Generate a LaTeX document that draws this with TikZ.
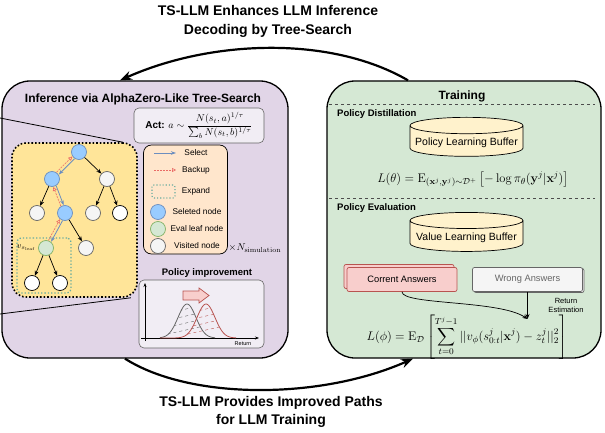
\RequirePackage{fix-cm}
\documentclass[tikz,border=0pt]{standalone}
\usepackage{amsmath}
\usepackage{amssymb}
\usepackage[no-math]{fontspec}
\setmainfont{Liberation Sans}
\usepackage{xcolor}
\usepackage{tikz}
\usetikzlibrary{shapes.geometric, arrows.meta, positioning, calc, shadows}
\definecolor{infbg}{HTML}{E1D5E7}
\definecolor{trainbg}{HTML}{D5E8D4}
\definecolor{treebg}{HTML}{FFE599}
\definecolor{legendbg}{HTML}{FFE6CC}
\definecolor{softbg}{HTML}{F1EDF4}
\definecolor{selfill}{HTML}{99CCFF}
\definecolor{selline}{HTML}{6C8EBF}
\definecolor{evalfill}{HTML}{D5E8D4}
\definecolor{evalline}{HTML}{82B366}
\definecolor{visfill}{HTML}{F5F5F5}
\definecolor{visline}{HTML}{666666}
\definecolor{backred}{HTML}{EA6B66}
\definecolor{expandteal}{HTML}{67AB9F}
\definecolor{bufyellow}{HTML}{FFF2CC}
\definecolor{goodfill}{HTML}{F8CECC}
\definecolor{goodline}{HTML}{B85450}
\tikzstyle{panel} = [rectangle, rounded corners=28pt, draw=black, line width=1.3pt, minimum height=277pt]
\tikzstyle{title} = [font=\fontsize{14}{18.5}\selectfont\bfseries, align=center]
\tikzstyle{heading} = [font=\fontsize{12}{14}\selectfont\bfseries]
\tikzstyle{subheading} = [font=\fontsize{9.5}{11}\selectfont\bfseries, inner sep=0pt]
\tikzstyle{softbox} = [rectangle, rounded corners=5pt, draw=visline, fill=softbg, line width=0.6pt]
\tikzstyle{treenode} = [circle, minimum size=15pt, inner sep=0pt, line width=0.7pt]
\tikzstyle{selnode} = [treenode, fill=selfill, draw=selline]
\tikzstyle{evalnode} = [treenode, fill=evalfill, draw=evalline]
\tikzstyle{visnode} = [treenode, fill=visfill, draw=visline]
\tikzstyle{newnode} = [treenode, fill=white, draw=black]
\tikzstyle{edge} = [-{Stealth[length=5pt,width=4pt]}, line width=0.7pt]
\tikzstyle{selectarrow} = [-{Stealth[length=5pt,width=3.5pt]}, draw=selline, line width=0.8pt]
\tikzstyle{backuparrow} = [-{Triangle[open,length=4pt,width=4pt]}, draw=backred, dash pattern=on 2pt off 1pt, line width=0.6pt]
\tikzstyle{legendtext} = [font=\fontsize{8.3}{10}\selectfont]
\tikzstyle{buffer} = [cylinder, shape border rotate=90, aspect=0.15, draw=black, fill=bufyellow, minimum width=113pt, minimum height=39pt, font=\fontsize{10.5}{12}\selectfont, line width=0.7pt]
\tikzstyle{answer} = [rectangle, rounded corners=2pt, minimum width=110pt, minimum height=24pt, font=\fontsize{9.3}{11}\selectfont, line width=0.7pt]
\tikzstyle{formula} = [font=\fontsize{12.5}{15}\selectfont, inner sep=1pt]
\tikzstyle{bigarc} = [-{Stealth[length=12pt,width=9pt]}, line width=2.2pt]
\tikzstyle{divider} = [dashed, draw=black!70, line width=0.6pt]

\begin{document}
\begin{tikzpicture}[x=1pt, y=-1pt]
    \useasboundingbox (0,0) rectangle (605,433);

    % Panels
    \node[panel, fill=infbg, minimum width=286pt] (inf) at (145,219.5) {};
    \node[panel, fill=trainbg, minimum width=274pt] (train) at (464,219.5) {};

    \node[title] (toptitle) at (268,21.5) {TS-LLM Enhances LLM Inference\\Decoding by Tree-Search};
    \node[title] (bottitle) at (271,412) {TS-LLM Provides Improved Paths\\for LLM Training};

    % Arcs
    \draw[bigarc] ([xshift=-56pt]train.north) .. controls (330,35) and (210,40) .. ([xshift=-25pt]inf.north);
    \draw[bigarc] ([xshift=-20pt]inf.south) .. controls (190,400) and (320,400) .. ([xshift=-51pt]train.south);

    % Inference
    \node[heading] (inftitle) at (143,99) {Inference via AlphaZero-Like Tree-Search};
    \node[softbox, minimum width=130pt, minimum height=35pt, inner sep=1pt, font=\fontsize{10}{12}\selectfont] (act) at (199,125.5) {\textbf{Act:} $\displaystyle a\sim\frac{N(s_t,a)^{1/\tau}}{\sum_b N(s_t,b)^{1/\tau}}$};

    \coordinate (zoomtop) at (0,118);
    \coordinate (zoombot) at (0,314);
    \node[rectangle, rounded corners=14pt, draw=black, fill=treebg, line width=1.6pt, dotted, minimum width=125pt, minimum height=154pt] (treebox) at (74.5,220) {};
    \draw[line width=0.8pt] (zoomtop) -- ([xshift=-15pt]treebox.north east);
    \draw[line width=0.8pt] (zoombot) -- ([xshift=-7pt]treebox.south east);
    \node[rectangle, rounded corners=4pt, draw=expandteal, line width=1.3pt, dotted, minimum width=54pt, minimum height=55pt] (expand) at (44,265.5) {};

    % Tree
    \node[selnode] (n0) at (79,152) {};
    \node[selnode] (n1) at (52,179) {};
    \node[visnode] (n2) at (107,179) {};
    \node[visnode] (n3) at (37,213) {};
    \node[selnode] (n4) at (65,213) {};
    \node[visnode] (n5) at (93,213) {};
    \node[newnode] (n6) at (120,213) {};
    \node[evalnode] (n7) at (46,248) {};
    \node[visnode] (n8) at (86,248) {};
    \node[newnode] (n9) at (32,283) {};
    \node[newnode] (n10) at (60,283) {};
    \node[font=\fontsize{8.5}{10}\selectfont, left=-1pt of n7] (vleaf) {$v_{s_{\mathrm{leaf}}}$};

    \draw[edge] (n0) -- (n2);
    \draw[edge] (n1) -- (n3);
    \draw[edge] (n2) -- (n5);
    \draw[edge] (n2) -- (n6);
    \draw[edge] (n4) -- (n8);
    \draw[edge] (n7) -- (n9);
    \draw[edge] (n7) -- (n10);
    \draw[selectarrow, transform canvas={xshift=1.1pt, yshift=-1.1pt}] (n0) -- (n1);
    \draw[backuparrow, transform canvas={xshift=-1.1pt, yshift=1.1pt}] (n1) -- (n0);
    \draw[selectarrow, transform canvas={xshift=1.4pt, yshift=0.5pt}] (n1) -- (n4);
    \draw[backuparrow, transform canvas={xshift=-1.4pt, yshift=-0.5pt}] (n4) -- (n1);
    \draw[selectarrow, transform canvas={xshift=1.3pt, yshift=-0.7pt}] (n4) -- (n7);
    \draw[backuparrow, transform canvas={xshift=-1.3pt, yshift=0.7pt}] (n7) -- (n4);

    % Legend
    \node[rectangle, rounded corners=8pt, draw=black, fill=legendbg, line width=0.7pt, minimum width=84pt, minimum height=109pt] (legend) at (185.5,199.5) {};
    \coordinate (selA) at (154,153);
    \coordinate (selB) at (176,153);
    \draw[selectarrow] (selA) -- (selB);
    \node[legendtext] (seltext) at (196,153) {Select};
    \coordinate (bakA) at (154,170);
    \coordinate (bakB) at (176,170);
    \draw[backuparrow] (bakA) -- (bakB);
    \node[legendtext] (baktext) at (196,170) {Backup};
    \node[rectangle, rounded corners=2pt, draw=expandteal, dotted, line width=1.1pt, minimum width=23pt, minimum height=13pt] (expkey) at (163.5,191.5) {};
    \node[legendtext] (exptext) at (196,191) {Expand};
    \node[selnode] (selkey) at (158,212) {};
    \node[legendtext] (selnodetext) at (197,212) {Seleted node};
    \node[evalnode] (evalkey) at (158,229) {};
    \node[legendtext] (evaltext) at (197,229) {Eval leaf node};
    \node[visnode] (viskey) at (158,246) {};
    \node[legendtext] (vistext) at (197,246) {Visited node};
    \node[font=\fontsize{10}{12}\selectfont] (nsim) at (255,248) {$\times N_{\mathrm{simulation}}$};

    % Policy improvement
    \node[subheading] (pititle) at (207,273) {Policy improvement};
    \node[softbox, minimum width=125pt, minimum height=68pt] (chart) at (201.5,314) {};
    \draw[-{Stealth[length=4pt,width=3pt]}, line width=0.6pt] (145,341) -- (145,283);
    \draw[-{Stealth[length=4pt,width=3pt]}, line width=0.6pt] (141,338) -- (259,338);
    \node[font=\fontsize{5.5}{6}\selectfont] (ret) at (243,344) {Return};
    \begin{scope}
        \clip plot[domain=160:215, samples=50] (\x,{338-34*exp(-((\x-187)^2)/160)}) -- cycle;
        \foreach \k in {0,7,14,21,28}
            \draw[dashed, draw=visline, line width=0.4pt] (150,{338-\k}) -- (240,{318-\k});
    \end{scope}
    \begin{scope}
        \clip plot[domain=176:236, samples=50] (\x,{338-34*exp(-((\x-206)^2)/160)}) -- cycle;
        \foreach \k in {0,7,14,21,28}
            \draw[dashed, draw=goodline, line width=0.4pt] (170,{338-\k}) -- (260,{318-\k});
    \end{scope}
    \draw[visline, line width=0.8pt] plot[domain=160:215, samples=50] (\x,{338-34*exp(-((\x-187)^2)/160)});
    \draw[goodline, line width=0.8pt] plot[domain=160:236, samples=60] (\x,{338-34*exp(-((\x-206)^2)/160)});
    \draw[fill=goodfill, draw=goodline, line width=0.7pt] (183,291) -- (199,291) -- (199,288) -- (209,295.5) -- (199,303) -- (199,300) -- (183,300) -- cycle;

    % Training
    \node[heading] (traintitle) at (462,96) {Training};
    \draw[divider] (329,104) -- (595,104);
    \node[subheading, anchor=west] (distil) at (337,114) {Policy Distillation};
    \node[buffer] (policybuf) at (466.5,142.5) {Policy Learning Buffer};
    \node[formula] (ltheta) at (473,179) {$\displaystyle L(\theta)=\mathrm{E}_{(\mathbf{x}^j,\mathbf{y}^j)\sim\mathcal{D}^+}\left[-\log\pi_\theta(\mathbf{y}^j|\mathbf{x}^j)\right]$};
    \draw[divider] (329,198) -- (595,198);
    \node[subheading, anchor=west] (evalsec) at (337,208) {Policy Evaluation};
    \node[buffer] (valuebuf) at (466.5,237.5) {Value Learning Buffer};
    \node[answer, fill=goodfill, draw=goodline, copy shadow={shadow xshift=-3pt, shadow yshift=3pt}] (correct) at (402,279.5) {Corrent Answers};
    \node[answer, fill=visfill, draw=visline, text=visline, copy shadow={shadow xshift=1.5pt, shadow yshift=-1pt}] (wrong) at (527.5,279.5) {Wrong Answers};
    \coordinate (est) at (527.5,319);
    \node[font=\fontsize{7.5}{9}\selectfont, align=center] (esttext) at (566,305) {Return\\Estimation};
    \node[formula] (lphi) at (467,337) {$\displaystyle L(\phi)=\mathrm{E}_{\mathcal{D}}\left[\sum_{t=0}^{T^j-1}||v_\phi(s^j_{0:t}|\mathbf{x}^j)-z^j_t||_2^2\right]$};

    % Arrows
    \draw[edge] (correct.south) .. controls (402,305) and (500,300) .. (est);
    \draw[edge] (wrong.south) -- (est);
\end{tikzpicture}
\end{document}
